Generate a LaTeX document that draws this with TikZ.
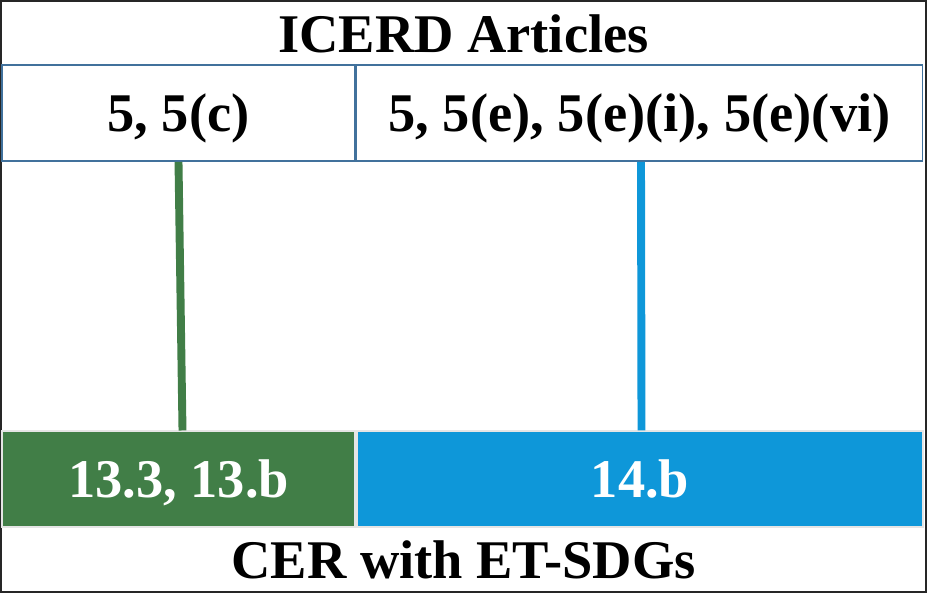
\documentclass[tikz,border=0pt]{standalone}
\usepackage{fontspec}
\setmainfont{Liberation Serif}
\usepackage{xcolor}
\usepackage{tikz}
\usetikzlibrary{arrows.meta, positioning, calc}

\definecolor{sdggreen}{HTML}{417E47}
\definecolor{sdgblue}{HTML}{0E97D9}
\definecolor{cellline}{HTML}{41719C}

\begin{document}
\begin{tikzpicture}[
  frame/.style    = {draw=black!85, line width=1.2pt},
  artcell/.style  = {draw=cellline, line width=0.9pt, fill=white,
                     minimum height=1.92cm, inner sep=0pt},
  sdgcell/.style  = {draw=white!80!gray, line width=0.6pt,
                     minimum height=1.92cm, inner sep=0pt, text=white},
  bigtxt/.style   = {font=\fontsize{31}{36}\selectfont\bfseries,
                     text height=20.5pt, text depth=0pt},
  link/.style     = {line width=4.5pt},
]

\useasboundingbox (0,0) rectangle (18.54,-11.86);

%% ── outer frame ─────────────────────────────────────────────────────────────
\draw[frame] (0.02,-0.02) rectangle (18.52,-11.84);

%% ── ICERD articles ──────────────────────────────────────────────────────────
\node[bigtxt] (icerd) at (9.27,-0.68) {ICERD Articles};

\node[artcell, bigtxt, minimum width=7.06cm]  (art1) at (3.57,-2.26)  {5, 5(c)};
\node[artcell, bigtxt, minimum width=11.32cm] (art2) at (12.79,-2.26)
  {5, 5(e), 5(e)(i), 5(e)(vi)};

%% ── CER with ET-SDGs ────────────────────────────────────────────────────────
\node[sdgcell, bigtxt, fill=sdggreen, minimum width=7.06cm]  (sdg1) at (3.57,-9.58)
  {13.3, 13.b};
\node[sdgcell, bigtxt, fill=sdgblue,  minimum width=11.32cm] (sdg2) at (12.80,-9.58)
  {14.b};

\node[bigtxt] (cer) at (9.27,-11.2) {CER with ET-SDGs};

%% ── links ───────────────────────────────────────────────────────────────────
\draw[link, sdggreen] (art1.south) -- ([xshift=0.08cm]sdg1.north);
\draw[link, sdgblue]  ([xshift=0.03cm]art2.south) -- ([xshift=0.03cm]sdg2.north);

\end{tikzpicture}
\end{document}
